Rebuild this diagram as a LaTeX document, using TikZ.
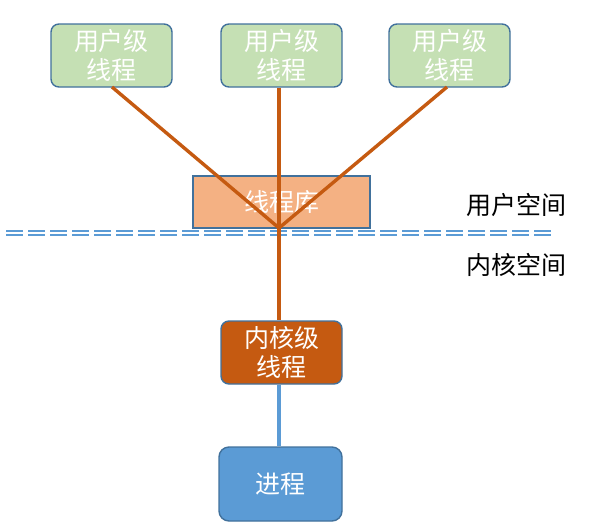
\documentclass[tikz,border=0pt]{standalone}
\usepackage{fontspec}
\setmainfont{Noto Sans CJK SC}
\definecolor{boxline}{HTML}{41719C}
\definecolor{ugreen}{HTML}{C5E0B4}
\definecolor{libfill}{HTML}{F4B183}
\definecolor{korange}{HTML}{C55A11}
\definecolor{pblue}{HTML}{5B9BD5}
\tikzset{
  boxtext/.style={text=white, font=\fontsize{25}{29}\selectfont, inner sep=0pt, align=center},
  ubox/.style={boxtext, draw=boxline, line width=1.4pt, rounded corners=8pt, fill=ugreen,
    minimum width=121pt, minimum height=63pt},
  libbox/.style={boxtext, draw=boxline, line width=1.4pt, fill=libfill,
    minimum width=177pt, minimum height=52pt},
  kbox/.style={boxtext, draw=boxline, line width=1.4pt, rounded corners=8pt, fill=korange,
    minimum width=121pt, minimum height=63pt},
  pbox/.style={boxtext, draw=boxline, line width=1.4pt, rounded corners=10pt, fill=pblue,
    minimum width=123pt, minimum height=74pt},
  olink/.style={draw=korange, line width=3.4pt},
  blink/.style={draw=pblue, line width=3.4pt},
  sepline/.style={draw=pblue, line width=1.6pt, dash pattern=on 17pt off 5pt},
  spacelabel/.style={font=\fontsize{25}{28}\selectfont, text=black, inner sep=0pt}
}
\begin{document}
\begin{tikzpicture}[x=1pt,y=-1pt]
\useasboundingbox (0,0) rectangle (595,531);
\node[ubox] (u1) at (111.5,55.5) {用户级\\线程};
\node[ubox] (u2) at (281.5,55.5) {用户级\\线程};
\node[ubox] (u3) at (449.5,55.5) {用户级\\线程};
\node[libbox] (lib) at (281.5,202) {线程库};
\coordinate (hub) at (279,228);
\node[kbox] (k) at (281.5,352.5) {内核级\\线程};
\node[pbox] (p) at (280.5,484) {进程};
\coordinate (sl) at (6,231);
\coordinate (sr) at (554,231);
\coordinate (sl2) at (6,235);
\coordinate (sr2) at (554,235);
\draw[sepline] (sl) -- (sr);
\draw[sepline] (sl2) -- (sr2);
\node[spacelabel] (us) at (516,205) {用户空间};
\node[spacelabel] (ks) at (516,265) {内核空间};
\coordinate (a1) at (112,87);
\coordinate (a3) at (447,87);
\draw[olink] (a1) -- (hub);
\draw[olink] (u2.south -| hub) -- (k.north -| hub);
\draw[olink] (a3) -- (hub);
\draw[blink] (k.south -| hub) -- (p.north -| hub);
\end{tikzpicture}
\end{document}
